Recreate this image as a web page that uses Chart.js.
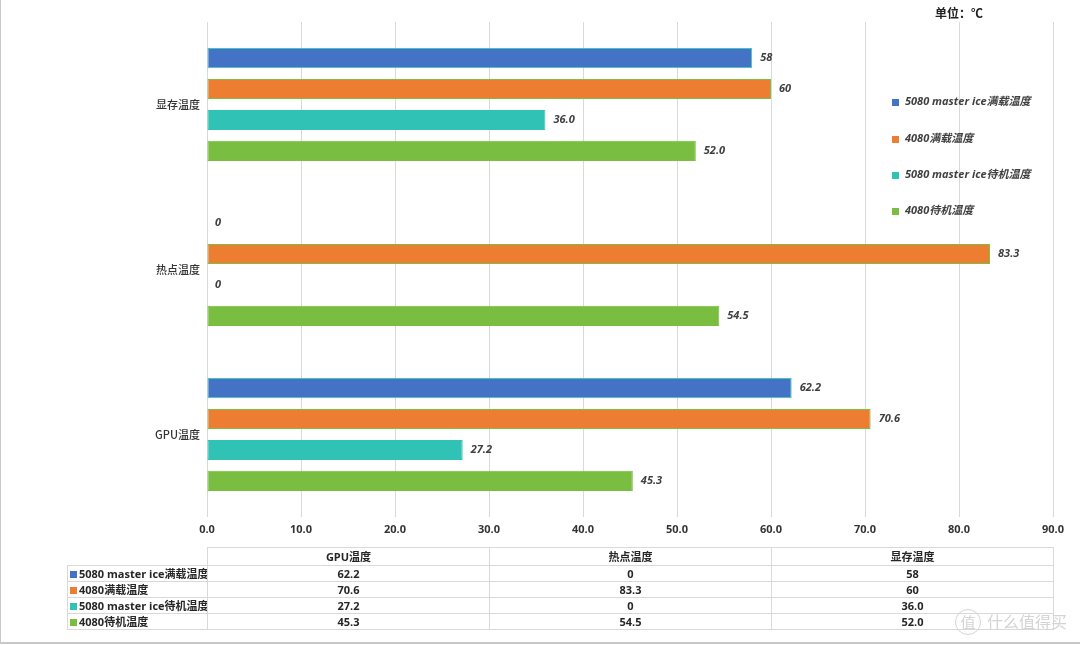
<!DOCTYPE html>
<html>
<head>
<meta charset="utf-8">
<script src="https://cdn.jsdelivr.net/npm/chart.js@4.4.1/dist/chart.umd.min.js"></script>
<style>
    html, body { margin: 0; padding: 0; background: #fff; }
    body { width: 1080px; height: 645px; position: relative; overflow: hidden; font-family: 'Open Sans', 'Noto Sans CJK SC', sans-serif; }
    #frame { position: absolute; left: 0; top: -2px; width: 1200px; height: 646px; border-left: 1px solid #c8c8c8; border-bottom: 2px solid #c8c8c8; box-sizing: border-box; }
    #chartBox { position: absolute; left: 0; top: 0; width: 1080px; height: 645px; }
    #unit { position: absolute; left: 935px; top: 4px; font-size: 12px; font-weight: bold; color: #222; font-family: 'Noto Sans CJK SC', sans-serif; }
    #dataTable { position: absolute; left: 67px; top: 547px; width: 987px; table-layout: fixed; border-collapse: collapse; font-size: 11px; font-weight: bold; color: #262626; }
    #dataTable td { border: 1px solid #d9d9d9; padding: 0; height: 15px; line-height: 15px; text-align: center; }
    #dataTable td.lbl { text-align: left; padding-left: 2px; white-space: nowrap; overflow: hidden; }
    #dataTable tr.head td { height: 17px; }
    #dataTable td.blank { border: none; }
    .sw { display: inline-block; width: 7px; height: 7px; margin-right: 2px; vertical-align: 0px; }
    #watermark { position: absolute; left: 955px; top: 608px; font-size: 16px; line-height: 26px; color: #d4d4d4; white-space: nowrap; font-family: 'Noto Sans CJK SC', sans-serif; }
    #watermark .ring { display: inline-block; width: 24px; height: 24px; line-height: 23px; text-align: center; border: 1.5px solid #d4d4d4; border-radius: 50%; margin-right: 6px; font-size: 15px; }
</style>
</head>
<body>
<div id="frame"></div>
<div id="chartBox"><canvas id="tempChart" width="1080" height="645"></canvas></div>
<div id="unit">单位：℃</div>
<table id="dataTable"></table>
<div id="watermark"><span class="ring">值</span>什么值得买</div>
<script>
const categories = ['GPU温度', '热点温度', '显存温度'];
const seriesNames = ['5080 master ice满载温度', '4080满载温度', '5080 master ice待机温度', '4080待机温度'];
const load5080 = [62.2, 0, 58];
const load4080 = [70.6, 83.3, 60];
const idle5080 = [27.2, 0, 36.0];
const idle4080 = [45.3, 54.5, 52.0];
const load5080Text = ['62.2', '0', '58'];
const load4080Text = ['70.6', '83.3', '60'];
const idle5080Text = ['27.2', '0', '36.0'];
const idle4080Text = ['45.3', '54.5', '52.0'];
const xTicks = [0, 10, 20, 30, 40, 50, 60, 70, 80, 90];

const colors = ['#4472c4', '#ed7d31', '#30c2b4', '#79bd41'];
const borders = ['#3ec6c0', '#7dbf45', '#30c2b4', '#79bd41'];
const seriesValues = [load5080, load4080, idle5080, idle4080];
const seriesText = [load5080Text, load4080Text, idle5080Text, idle4080Text];

const fontFamily = "'Open Sans', 'Noto Sans CJK SC', sans-serif";

// value labels at the end of every bar
const valueLabels = {
    id: 'valueLabels',
    afterDatasetsDraw(chart) {
        const ctx = chart.ctx;
        ctx.save();
        ctx.font = 'italic bold 11px ' + fontFamily;
        ctx.fillStyle = '#404040';
        ctx.textBaseline = 'middle';
        chart.data.datasets.forEach((ds, i) => {
            chart.getDatasetMeta(i).data.forEach((bar, j) => {
                ctx.fillText(seriesText[i][j], bar.x + 8, bar.y);
            });
        });
        ctx.restore();
    }
};

// legend drawn over the plot on the right
const sideLegend = {
    id: 'sideLegend',
    afterDraw(chart) {
        const ctx = chart.ctx;
        ctx.save();
        ctx.font = 'italic bold 11px ' + fontFamily;
        ctx.textBaseline = 'middle';
        const ys = [102, 139, 175, 211];
        seriesNames.forEach((name, i) => {
            ctx.fillStyle = colors[i];
            ctx.fillRect(892, ys[i] - 3, 7, 7);
            ctx.fillStyle = '#404040';
            ctx.fillText(name, 905, ys[i]);
        });
        ctx.restore();
    }
};

const ctx = document.getElementById('tempChart').getContext('2d');
new Chart(ctx, {
    type: 'bar',
    data: {
        labels: categories,
        datasets: seriesNames.map((name, i) => ({
            label: name,
            data: seriesValues[i],
            backgroundColor: colors[i],
            borderColor: borders[i],
            borderWidth: 1,
            borderSkipped: false,
            barPercentage: 0.65,
            categoryPercentage: 0.75
        }))
    },
    options: {
        indexAxis: 'y',
        responsive: false,
        animation: false,
        layout: {
            padding: { left: 0, right: 27, top: 22, bottom: 103 }
        },
        plugins: {
            legend: { display: false },
            tooltip: { enabled: false }
        },
        scales: {
            x: {
                min: 0,
                max: 90,
                afterBuildTicks(scale) {
                    scale.ticks = xTicks.map(v => ({ value: v }));
                },
                afterFit(scale) {
                    scale.height = 25;
                },
                grid: {
                    color: '#d9d9d9',
                    drawTicks: false
                },
                border: { display: false },
                ticks: {
                    padding: 6,
                    color: '#333',
                    callback: v => v.toFixed(1),
                    font: { family: fontFamily, size: 11, weight: 'bold' }
                }
            },
            y: {
                reverse: true,
                afterFit(scale) {
                    scale.width = 207;
                },
                grid: { display: false, drawTicks: false },
                border: { display: false },
                ticks: {
                    padding: 7,
                    color: '#333',
                    font: { family: "'Noto Sans CJK SC', sans-serif", size: 11, weight: '500' }
                }
            }
        }
    },
    plugins: [valueLabels, sideLegend]
});

// data table under the chart
const table = document.getElementById('dataTable');
let rows = '<colgroup><col style="width:140px"><col style="width:282px"><col style="width:282px"><col style="width:282px"></colgroup>';
rows += '<tr class="head"><td class="blank"></td>';
categories.forEach(c => { rows += '<td>' + c + '</td>'; });
rows += '</tr>';
seriesNames.forEach((name, i) => {
    rows += '<tr><td class="lbl"><span class="sw" style="background:' + colors[i] + '"></span>' + name + '</td>';
    seriesText[i].forEach(t => { rows += '<td>' + t + '</td>'; });
    rows += '</tr>';
});
table.innerHTML = rows;
</script>
</body>
</html>
